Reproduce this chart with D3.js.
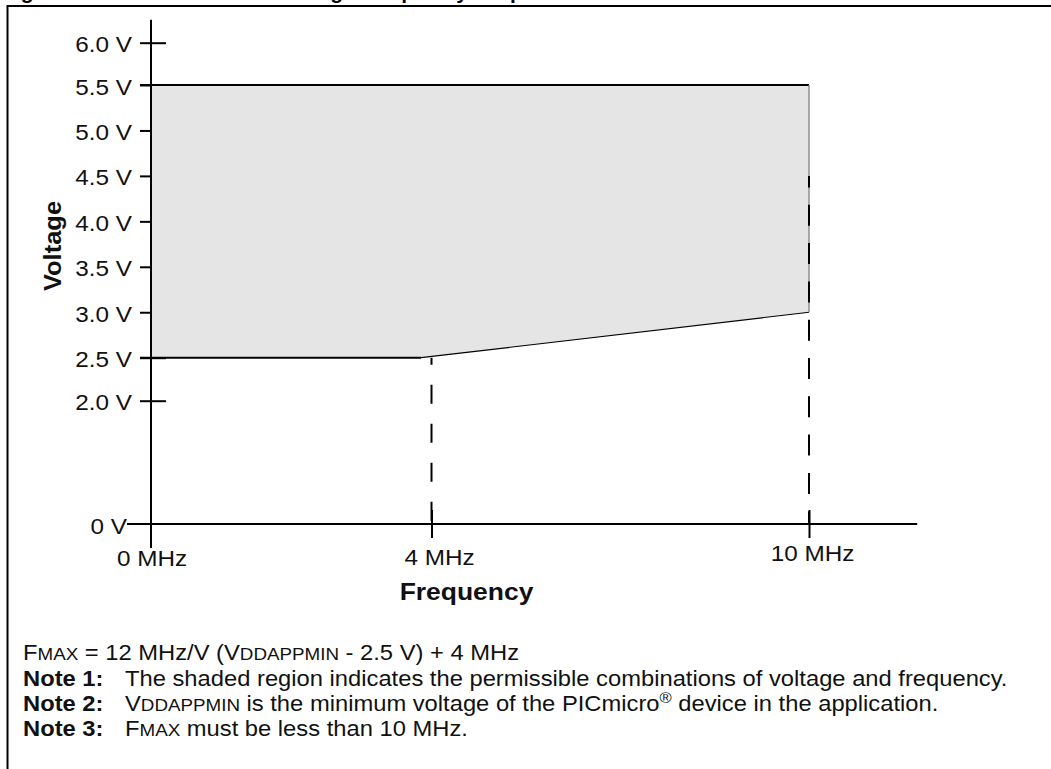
<!DOCTYPE html>
<html>
<head>
<meta charset="utf-8">
<script src="https://cdn.jsdelivr.net/npm/d3@7"></script>
<style>
  body { margin: 0; background: #fff; overflow: hidden; }
  svg { display: block; font-family: "Liberation Sans", Arial, sans-serif; }
</style>
</head>
<body>
<div id="chart"></div>
<script>
// Tick values and labels
const voltTicks = [0, 2.0, 2.5, 3.0, 3.5, 4.0, 4.5, 5.0, 5.5, 6.0];
const voltLabels = ["0 V", "2.0 V", "2.5 V", "3.0 V", "3.5 V", "4.0 V", "4.5 V", "5.0 V", "5.5 V", "6.0 V"];
const freqTicks = [0, 4, 10];
const freqLabels = ["0 MHz", "4 MHz", "10 MHz"];

// Shaded operating region (frequency in MHz, voltage in V)
const regionFreq = [0, 3.85, 10, 10, 0];
const regionVolt = [2.5, 2.5, 3.0, 5.5, 5.5];

// Dashed frequency limits: where each dashed line starts (V)
const limitFreq = [4, 10];
const limitVolt = [2.5, 4.5];

const W = 1051, H = 769;
const sx = 1.08; // the original type is a bit wider than Liberation Sans

const svg = d3.select("#chart")
    .append("svg")
    .attr("width", W)
    .attr("height", H);

// Broken axes in the original: piecewise linear scales
const x = d3.scaleLinear()
    .domain([0, 4, 10])
    .range([151, 431.5, 809]);

const y = d3.scaleLinear()
    .domain([0, 2, 2.5, 5.5, 6])
    .range([524, 400.7, 357.7, 85, 42.7]);

// Clipped figure title (only descenders show) and frame
svg.append("text")
    .attr("x", 2)
    .attr("y", -1)
    .attr("font-size", 21)
    .attr("font-weight", "bold")
    .text("Figure 15-1:")
    .append("tspan")
    .attr("x", 166)
    .text("PIC16F87X Voltage-Frequency Graph");

svg.append("rect")
    .attr("x", 7.5)
    .attr("y", 6)
    .attr("width", 1100)
    .attr("height", 900)
    .attr("fill", "none")
    .attr("stroke", "#000")
    .attr("stroke-width", 2);

// Y axis
const yAxis = svg.append("g")
    .attr("transform", `translate(${x(0)},0)`)
    .call(d3.axisLeft(y)
        .tickValues(voltTicks)
        .tickSize(11)
        .tickFormat((d, i) => voltLabels[i]));
yAxis.select(".domain").remove();
yAxis.selectAll(".tick line")
    .attr("stroke-width", 2)
    .filter(d => d > 0)
    .clone()
    .attr("x2", 15);
yAxis.selectAll(".tick text")
    .attr("font-size", 22.5)
    .attr("font-family", "Liberation Sans, Arial, sans-serif")
    .attr("fill", "#111")
    .attr("dy", "0.4em")
    .attr("transform", `scale(${sx},1)`)
    .attr("x", d => (d === 0 ? -24 : -19) / sx);
yAxis.selectAll(".tick").filter(d => d === 0).select("line").remove();

// X axis
const xAxis = svg.append("g")
    .attr("transform", `translate(0,${y(0)})`)
    .call(d3.axisBottom(x)
        .tickValues(freqTicks)
        .tickSize(14)
        .tickFormat((d, i) => freqLabels[i]));
xAxis.select(".domain").remove();
xAxis.selectAll(".tick line")
    .attr("stroke-width", 2)
    .filter(d => d > 0)
    .clone()
    .attr("y2", -14);
xAxis.selectAll(".tick").filter(d => d === 0).select("line").remove();
const labelShift = [0.5, 7.5, 3];
const labelDrop = [42, 41, 37];
xAxis.selectAll(".tick text")
    .attr("font-size", 22.5)
    .attr("font-family", "Liberation Sans, Arial, sans-serif")
    .attr("fill", "#111")
    .attr("dy", 0)
    .attr("transform", `scale(${sx},1)`)
    .attr("x", (d, i) => labelShift[i] / sx)
    .attr("y", (d, i) => labelDrop[i]);

// Shaded region
const region = regionFreq.map((f, i) => [x(f), y(regionVolt[i])]);
svg.append("path")
    .attr("d", d3.line()([[x(0), y(2.5)], ...region]) + "Z")
    .attr("fill", "#e5e5e5")
    .attr("stroke", "none");

// Region outlines
svg.append("line")
    .attr("x1", x(0) - 11).attr("x2", x(10))
    .attr("y1", y(5.5)).attr("y2", y(5.5))
    .attr("stroke", "#000").attr("stroke-width", 2);
svg.append("line")
    .attr("x1", x(0) - 11).attr("x2", x(regionFreq[1]))
    .attr("y1", y(2.5)).attr("y2", y(2.5))
    .attr("stroke", "#000").attr("stroke-width", 2);
svg.append("line")
    .attr("x1", x(regionFreq[1])).attr("x2", x(regionFreq[2]))
    .attr("y1", y(regionVolt[1])).attr("y2", y(regionVolt[2]))
    .attr("stroke", "#000").attr("stroke-width", 1.2);
svg.append("line")
    .attr("x1", x(10)).attr("x2", x(10))
    .attr("y1", y(5.5)).attr("y2", y(3.0))
    .attr("stroke", "#777").attr("stroke-width", 1.2);

// Dashed limit lines
const dashStyle = [["19 20", 12], ["21 17.3", 9.4]];
svg.selectAll("line.limit")
    .data(limitFreq)
    .join("line")
    .attr("class", "limit")
    .attr("x1", d => x(d)).attr("x2", d => x(d))
    .attr("y1", (d, i) => y(limitVolt[i]))
    .attr("y2", y(0))
    .attr("stroke", "#000")
    .attr("stroke-width", 2)
    .attr("stroke-dasharray", (d, i) => dashStyle[i][0])
    .attr("stroke-dashoffset", (d, i) => dashStyle[i][1]);

// Axis lines
svg.append("line")
    .attr("x1", x(0)).attr("x2", x(0))
    .attr("y1", y(6) - 23).attr("y2", y(0) + 24)
    .attr("stroke", "#000").attr("stroke-width", 2);
svg.append("line")
    .attr("x1", x(0) - 24).attr("x2", x(11.72))
    .attr("y1", y(0)).attr("y2", y(0))
    .attr("stroke", "#000").attr("stroke-width", 2);

// Axis titles
svg.append("text")
    .attr("transform", `translate(466.5,600) scale(${sx},1)`)
    .attr("text-anchor", "middle")
    .attr("font-size", 24.5)
    .attr("font-weight", "bold")
    .attr("fill", "#111")
    .text("Frequency");

svg.append("text")
    .attr("transform", "translate(61,246) rotate(-90) scale(1.04,1)")
    .attr("text-anchor", "middle")
    .attr("font-size", 24.5)
    .attr("font-weight", "bold")
    .attr("fill", "#111")
    .text("Voltage");

// Footer: formula and notes (small caps done with smaller tspans)
const fx = 1.105;
const foot = svg.append("g")
    .attr("transform", `translate(23,0) scale(${fx},1)`)
    .attr("font-size", 21.5)
    .attr("fill", "#111");
const sc = 17;
const bodyX = (125 - 23) / fx;

const f0 = foot.append("text").attr("x", 0).attr("y", 660);
f0.append("tspan").text("F");
f0.append("tspan").attr("font-size", sc).text("MAX");
f0.append("tspan").text(" = 12 MHz/V (V");
f0.append("tspan").attr("font-size", sc).text("DDAPPMIN");
f0.append("tspan").text(" - 2.5 V) + 4 MHz");

const n1 = foot.append("text").attr("y", 686.5);
n1.append("tspan").attr("x", 0).attr("font-weight", "bold").text("Note 1:");
n1.append("tspan").attr("x", bodyX).text("The shaded region indicates the permissible combinations of voltage and frequency.");

const n2 = foot.append("text").attr("y", 711.5);
n2.append("tspan").attr("x", 0).attr("font-weight", "bold").text("Note 2:");
n2.append("tspan").attr("x", bodyX).text("V");
n2.append("tspan").attr("font-size", sc).text("DDAPPMIN");
n2.append("tspan").text(" is the minimum voltage of the PICmicro");
n2.append("tspan").attr("font-size", 15).attr("dy", -8).text("®");
n2.append("tspan").attr("dy", 8).text(" device in the application.");

const n3 = foot.append("text").attr("y", 736.5);
n3.append("tspan").attr("x", 0).attr("font-weight", "bold").text("Note 3:");
n3.append("tspan").attr("x", bodyX).text("F");
n3.append("tspan").attr("font-size", sc).text("MAX");
n3.append("tspan").text(" must be less than 10 MHz.");
</script>
</body>
</html>
